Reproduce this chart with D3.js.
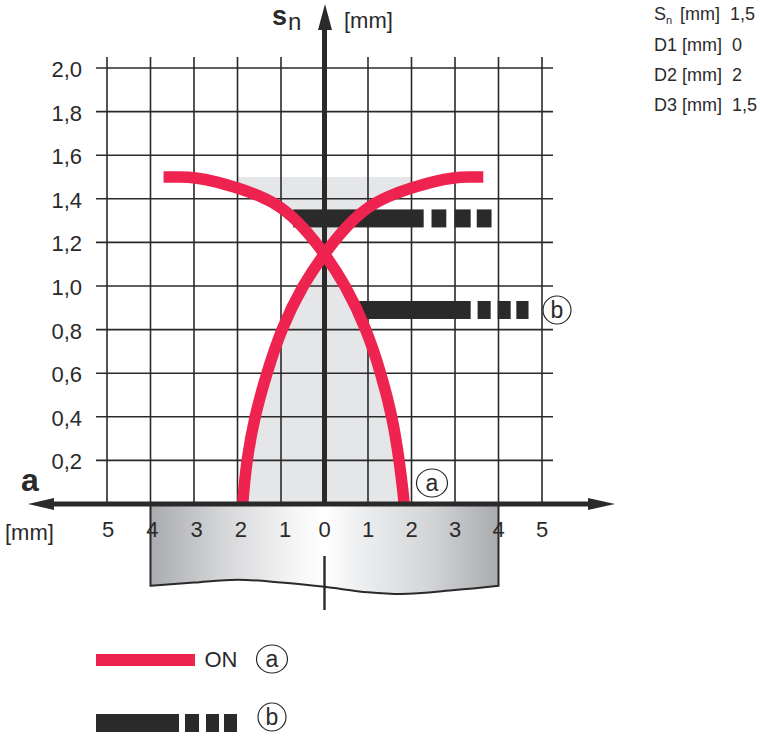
<!DOCTYPE html>
<html>
<head>
<meta charset="utf-8">
<script src="https://cdn.jsdelivr.net/npm/d3@7"></script>
<style>
  html, body { margin: 0; padding: 0; background: #fff; }
  svg { display: block; }
  text { font-family: "Liberation Sans", Arial, sans-serif; fill: #2b2a2b; }
</style>
</head>
<body>
<div id="chart"></div>
<script>
const RED = "#ee2350";
const DARK = "#2b2a2b";

// distance a [mm] and sensing range sn [mm]
const yTicks = [0.2, 0.4, 0.6, 0.8, 1.0, 1.2, 1.4, 1.6, 1.8, 2.0];
const xGrid = [-5, -4, -3, -2, -1, 1, 2, 3, 4, 5];
const xLabels = [-5, -4, -3, -2, -1, 0, 1, 2, 3, 4, 5];

// curve running from upper left down to the right
const curveAX = [-3.7, -3.3, -3, -2.5, -2, -1.5, -1, -0.5, 0, 0.48, 0.96, 1.3, 1.56, 1.72, 1.82, 1.83];
const curveAY = [1.5, 1.5, 1.498, 1.48, 1.45, 1.415, 1.365, 1.275, 1.15, 1.005, 0.805, 0.6, 0.4, 0.2, 0.03, 0];
// curve running from upper right down to the left
const curveBX = [3.65, 3.3, 3, 2.5, 2, 1.5, 1, 0.5, 0, -0.5, -0.99, -1.33, -1.61, -1.79, -1.87, -1.88];
const curveBY = [1.5, 1.5, 1.498, 1.48, 1.45, 1.415, 1.365, 1.275, 1.15, 1.005, 0.805, 0.6, 0.4, 0.2, 0.03, 0];

// switching bars: [from, to] in mm along a
const barOn = [[-0.72, 2.28], [2.46, 2.8], [2.99, 3.36], [3.5, 3.84]];
const barOff = [[0.77, 3.36], [3.52, 3.82], [3.98, 4.28], [4.41, 4.69]];
const barOnLevel = 1.31;
const barOffLevel = 0.89;

const paramLabels = ["D1 [mm]  0", "D2 [mm]  2", "D3 [mm]  1,5"];

const width = 760;
const height = 738;

const x = d3.scaleLinear().domain([-5, 5]).range([107, 542]);
const y = d3.scaleLinear().domain([0, 2]).range([504, 68]);

const svg = d3.select("#chart").append("svg")
  .attr("width", width)
  .attr("height", height);

const defs = svg.append("defs");
const grad = defs.append("linearGradient").attr("id", "plate");
grad.selectAll("stop")
  .data([[0, "#a9abae"], [0.2, "#d4d5d7"], [0.42, "#f6f6f7"], [0.5, "#ffffff"], [0.6, "#eeeff0"], [0.8, "#d4d5d7"], [1, "#a9abae"]])
  .join("stop")
  .attr("offset", d => d[0])
  .attr("stop-color", d => d[1]);

// shaded switching zone
const pairs = (xs, ys) => xs.map((v, i) => [x(v), y(ys[i])]);
const ptsA = pairs(curveAX, curveAY);
const ptsB = pairs(curveBX, curveBY);
const zone = [
  ...ptsB.slice(8).reverse(),
  ...ptsA.slice(4, 9).reverse(),
  [x(-2), y(1.5)], [x(2), y(1.5)],
  ...ptsB.slice(4, 9),
  ...ptsA.slice(8)
];
svg.append("path")
  .attr("d", d3.line()(zone))
  .attr("fill", "#e5e6e8");

// plate below the axis
const plate = [[-4, -0.375], [-3, -0.36], [-2, -0.347], [-1, -0.36], [0, -0.38], [1, -0.405], [1.75, -0.413], [3, -0.395], [4, -0.375]];
const plateLine = d3.line().x(d => x(d[0])).y(d => y(d[1])).curve(d3.curveMonotoneX);
svg.append("path")
  .attr("d", `M${x(-4)},${y(0)}` + plateLine(plate).replace("M", "L") + `L${x(4)},${y(0)}Z`)
  .attr("fill", "url(#plate)")
  .attr("stroke", DARK)
  .attr("stroke-width", 2);

// grid
svg.append("g").selectAll("line")
  .data(xGrid)
  .join("line")
  .attr("x1", d => x(d)).attr("x2", d => x(d))
  .attr("y1", 57).attr("y2", y(0))
  .attr("stroke", DARK).attr("stroke-width", 1.6);
svg.append("g").selectAll("line")
  .data(yTicks)
  .join("line")
  .attr("x1", 96).attr("x2", 553)
  .attr("y1", d => y(d)).attr("y2", d => y(d))
  .attr("stroke", DARK).attr("stroke-width", 1.6);

// y labels
svg.append("g").selectAll("text")
  .data(yTicks)
  .join("text")
  .attr("x", 82).attr("y", d => y(d) + 9)
  .attr("text-anchor", "end")
  .attr("font-size", 22)
  .text(d => d.toFixed(1).replace(".", ","));

// x labels, the left half sits a little right of its grid line
svg.append("g").selectAll("text")
  .data(xLabels)
  .join("text")
  .attr("x", d => x(d) + (d < 0 ? 1 + (d + 5) * 0.75 : 0)).attr("y", 537)
  .attr("text-anchor", "middle")
  .attr("font-size", 22)
  .text(d => Math.abs(d));

// vertical axis
svg.append("line")
  .attr("x1", x(0)).attr("x2", x(0)).attr("y1", y(0)).attr("y2", 28)
  .attr("stroke", DARK).attr("stroke-width", 5);
const arrow = d3.line();
svg.append("path").attr("d", arrow([[325, 4], [318, 30], [332, 30]]) + "Z").attr("fill", DARK);

// centre mark on the plate
svg.append("line")
  .attr("x1", 324.5).attr("x2", 324.5).attr("y1", 556).attr("y2", 610)
  .attr("stroke", DARK).attr("stroke-width", 2.4);

// dark bars
function drawBar(segs, level) {
  svg.append("g").selectAll("rect")
    .data(segs)
    .join("rect")
    .attr("x", d => x(d[0]))
    .attr("width", d => x(d[1]) - x(d[0]))
    .attr("y", y(level) - 9)
    .attr("height", 18)
    .attr("fill", DARK);
}
drawBar(barOn, barOnLevel);
drawBar(barOff, barOffLevel);

// red curves
const curveLine = d3.line().curve(d3.curveBasis);
[ptsA, ptsB].forEach(p => {
  svg.append("path")
    .attr("d", curveLine(p))
    .attr("fill", "none")
    .attr("stroke", RED)
    .attr("stroke-width", 11.5);
});

// horizontal axis stays above the curves
svg.append("line")
  .attr("x1", 50).attr("x2", 592).attr("y1", y(0)).attr("y2", y(0))
  .attr("stroke", DARK).attr("stroke-width", 5);
svg.append("path").attr("d", arrow([[28, 504], [54, 498], [54, 510]]) + "Z").attr("fill", DARK);
svg.append("path").attr("d", arrow([[615, 504], [588, 498], [588, 510]]) + "Z").attr("fill", DARK);

// axis titles
svg.append("text").attr("x", 272).attr("y", 25)
  .attr("font-size", 27).attr("font-weight", "bold").text("s");
svg.append("text").attr("x", 288).attr("y", 30)
  .attr("font-size", 24).text("n");
svg.append("text").attr("x", 344).attr("y", 28)
  .attr("font-size", 22).text("[mm]");
svg.append("text").attr("x", 21).attr("y", 490.5)
  .attr("font-size", 32).attr("font-weight", "bold").text("a");
svg.append("text").attr("x", 5).attr("y", 540)
  .attr("font-size", 22).text("[mm]");

// circled letters
function badge(cx, cy, rx, ry, label) {
  svg.append("ellipse")
    .attr("cx", cx).attr("cy", cy).attr("rx", rx).attr("ry", ry)
    .attr("fill", "#fff").attr("stroke", DARK).attr("stroke-width", 1.2);
  svg.append("text")
    .attr("x", cx).attr("y", cy).attr("dy", "0.34em")
    .attr("text-anchor", "middle").attr("font-size", 23).text(label);
}
badge(432, 483, 15.5, 14, "a");
badge(557, 310, 14, 14, "b");

// legend
svg.append("rect").attr("x", 96).attr("y", 654).attr("width", 99).attr("height", 12).attr("fill", RED);
svg.append("text").attr("x", 204.5).attr("y", 667).attr("font-size", 22).text("ON");
badge(272, 659, 15.5, 14, "a");
[[96, 179], [185, 199], [206, 219], [224, 237]].forEach(s => {
  svg.append("rect").attr("x", s[0]).attr("y", 714).attr("width", s[1] - s[0]).attr("height", 18).attr("fill", DARK);
});
badge(272, 717, 14, 14, "b");

// parameter block
const params = svg.append("g");
params.append("text").attr("x", 654).attr("y", 20).attr("font-size", 18).text("S");
params.append("text").attr("x", 666).attr("y", 24).attr("font-size", 11).text("n");
params.append("text").attr("x", 680).attr("y", 20).attr("font-size", 18).style("white-space", "pre").text("[mm]  1,5");
params.selectAll("text.p")
  .data(paramLabels)
  .join("text")
  .attr("class", "p")
  .attr("x", 654)
  .attr("y", (d, i) => 50.5 + i * 30.2)
  .attr("font-size", 18)
  .style("white-space", "pre")
  .text(d => d);
</script>
</body>
</html>
